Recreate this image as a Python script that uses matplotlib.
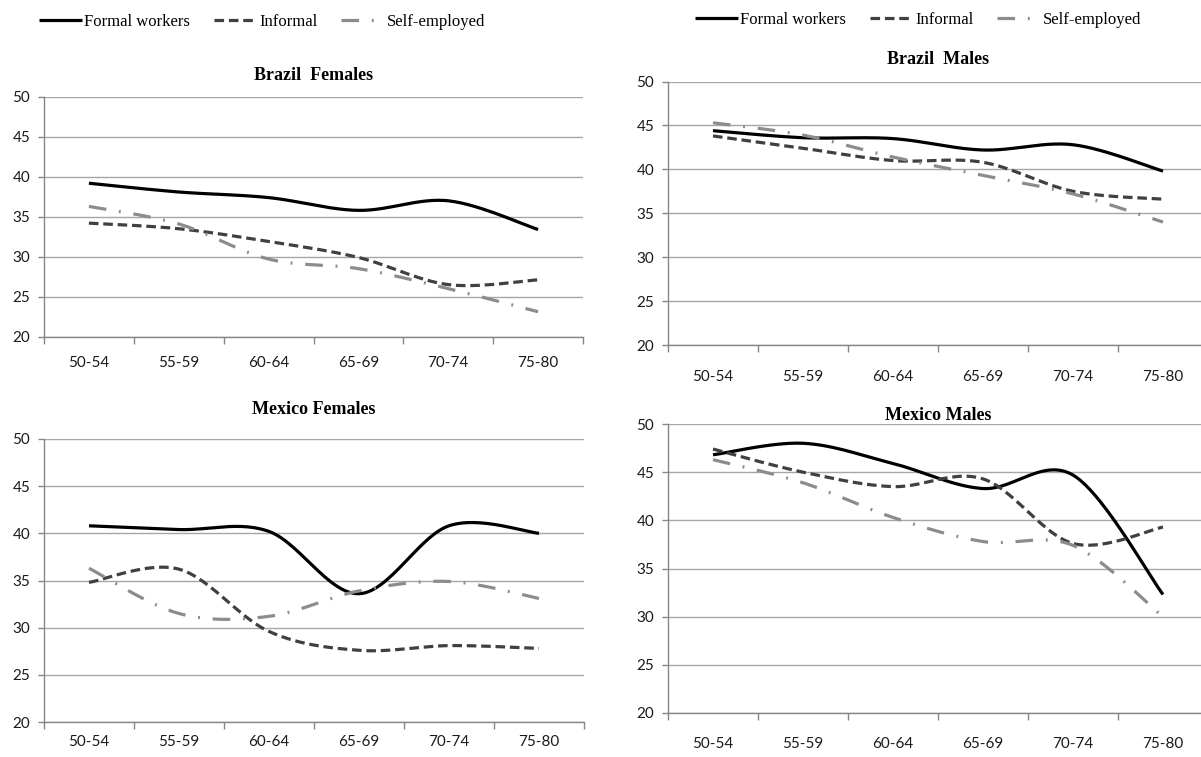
import numpy as np
import matplotlib
matplotlib.use("Agg")
import matplotlib.pyplot as plt
from matplotlib.lines import Line2D

# age groups on the x axis
ages = ["50-54", "55-59", "60-64", "65-69", "70-74", "75-80"]

# values
br_f_formal = [39.2, 38.1, 37.4, 35.8, 37.0, 33.4]
br_f_informal = [34.2, 33.5, 31.9, 29.9, 26.5, 27.1]
br_f_self = [36.3, 34.1, 29.7, 28.5, 26.0, 23.1]

br_m_formal = [44.4, 43.6, 43.5, 42.2, 42.8, 39.8]
br_m_informal = [43.8, 42.4, 41.0, 40.8, 37.5, 36.6]
br_m_self = [45.3, 43.9, 41.4, 39.3, 37.2, 34.0]

mx_f_formal = [40.8, 40.4, 40.2, 33.6, 40.8, 40.0]
mx_f_informal = [34.8, 36.2, 29.6, 27.6, 28.1, 27.8]
mx_f_self = [36.3, 31.5, 31.2, 33.9, 34.9, 33.1]

mx_m_formal = [46.8, 48.0, 45.9, 43.3, 44.7, 32.3]
mx_m_informal = [47.4, 45.0, 43.5, 44.3, 37.6, 39.3]
mx_m_self = [46.3, 43.9, 40.3, 37.8, 37.4, 30.0]

series_names = ["Formal workers", "Informal", "Self-employed"]

W, H = 1201, 757
fig = plt.figure(figsize=(W / 100, H / 100), dpi=100)

styles = [
    dict(color="black", lw=2.3, linestyle="-", solid_capstyle="butt"),
    dict(color="#404040", lw=2.3, linestyle=(0, (3.0, 1.5))),
    dict(color="#8c8c8c", lw=2.3, linestyle=(0, (5.5, 4.0, 0.6, 4.0))),
]


def smooth(y, n=30):
    # excel-like smoothed line (catmull-rom bezier through the points)
    x = np.arange(len(y), dtype=float)
    y = np.asarray(y, dtype=float)
    px, py = [x[0]], [y[0]]
    for i in range(len(x) - 1):
        x0, y0 = (x[i - 1], y[i - 1]) if i > 0 else (x[i], y[i])
        x3, y3 = (x[i + 2], y[i + 2]) if i + 2 < len(x) else (x[i + 1], y[i + 1])
        x1, y1, x2, y2 = x[i], y[i], x[i + 1], y[i + 1]
        c1x, c1y = x1 + (x2 - x0) / 6, y1 + (y2 - y0) / 6
        c2x, c2y = x2 - (x3 - x1) / 6, y2 - (y3 - y1) / 6
        t = np.linspace(0, 1, n)[1:]
        bx = (1 - t) ** 3 * x1 + 3 * (1 - t) ** 2 * t * c1x + 3 * (1 - t) * t ** 2 * c2x + t ** 3 * x2
        by = (1 - t) ** 3 * y1 + 3 * (1 - t) ** 2 * t * c1y + 3 * (1 - t) * t ** 2 * c2y + t ** 3 * y2
        px.extend(bx)
        py.extend(by)
    return np.array(px), np.array(py)


def panel(box, title, data, title_y, xpad):
    l, r, t, b = box
    ax = fig.add_axes([l / W, 1 - b / H, (r - l) / W, (b - t) / H])
    for vals, st in zip(data, styles):
        xs, ys = smooth(vals)
        ax.plot(xs, ys, **st, zorder=3)
    ax.set_xlim(-0.5, len(ages) - 0.5)
    ax.set_ylim(20, 50)
    ax.set_yticks(range(20, 51, 5))
    ax.set_xticks(np.arange(len(ages)))
    ax.set_xticklabels(ages)
    ax.set_xticks(np.arange(-0.5, len(ages)), minor=True)
    ax.tick_params(axis="x", which="major", length=0, pad=xpad)
    ax.tick_params(axis="x", which="minor", length=5, color="#868686", width=1)
    ax.tick_params(axis="y", length=4, color="#868686", width=1, pad=6)
    for lab in ax.get_xticklabels() + ax.get_yticklabels():
        lab.set_family("Lato")
        lab.set_fontsize(11)
        lab.set_color("#1a1a1a")
    ax.grid(axis="y", color="#a6a6a6", lw=1)
    ax.set_axisbelow(True)
    for s in ["top", "right"]:
        ax.spines[s].set_visible(False)
    for s in ["left", "bottom"]:
        ax.spines[s].set_color("#868686")
        ax.spines[s].set_linewidth(1)
    fig.text((l + r) / 2 / W, 1 - title_y / H, title, ha="center", va="center",
             family="Liberation Serif", fontweight="bold", fontsize=13)
    return ax


panel((44, 583, 97, 336.5), "Brazil  Females",
      [br_f_formal, br_f_informal, br_f_self], 76, 14)
panel((668, 1208, 81.5, 345), "Brazil  Males",
      [br_m_formal, br_m_informal, br_m_self], 60, 18)
panel((44, 584, 439, 722), "Mexico Females",
      [mx_f_formal, mx_f_informal, mx_f_self], 410, 9)
panel((668, 1208, 424, 713), "Mexico Males",
      [mx_m_formal, mx_m_informal, mx_m_self], 416, 17)

handles = [Line2D([], [], **st) for st in styles]
for cx, cy in [(262, 22), (918, 20)]:
    fig.legend(handles, series_names, loc="center", ncol=3,
               bbox_to_anchor=(cx / W, 1 - cy / H), frameon=False,
               prop={"family": "Liberation Serif", "size": 12},
               handlelength=2.6, handletextpad=0.15, columnspacing=1.4)

fig.savefig("out.png", dpi=100)
